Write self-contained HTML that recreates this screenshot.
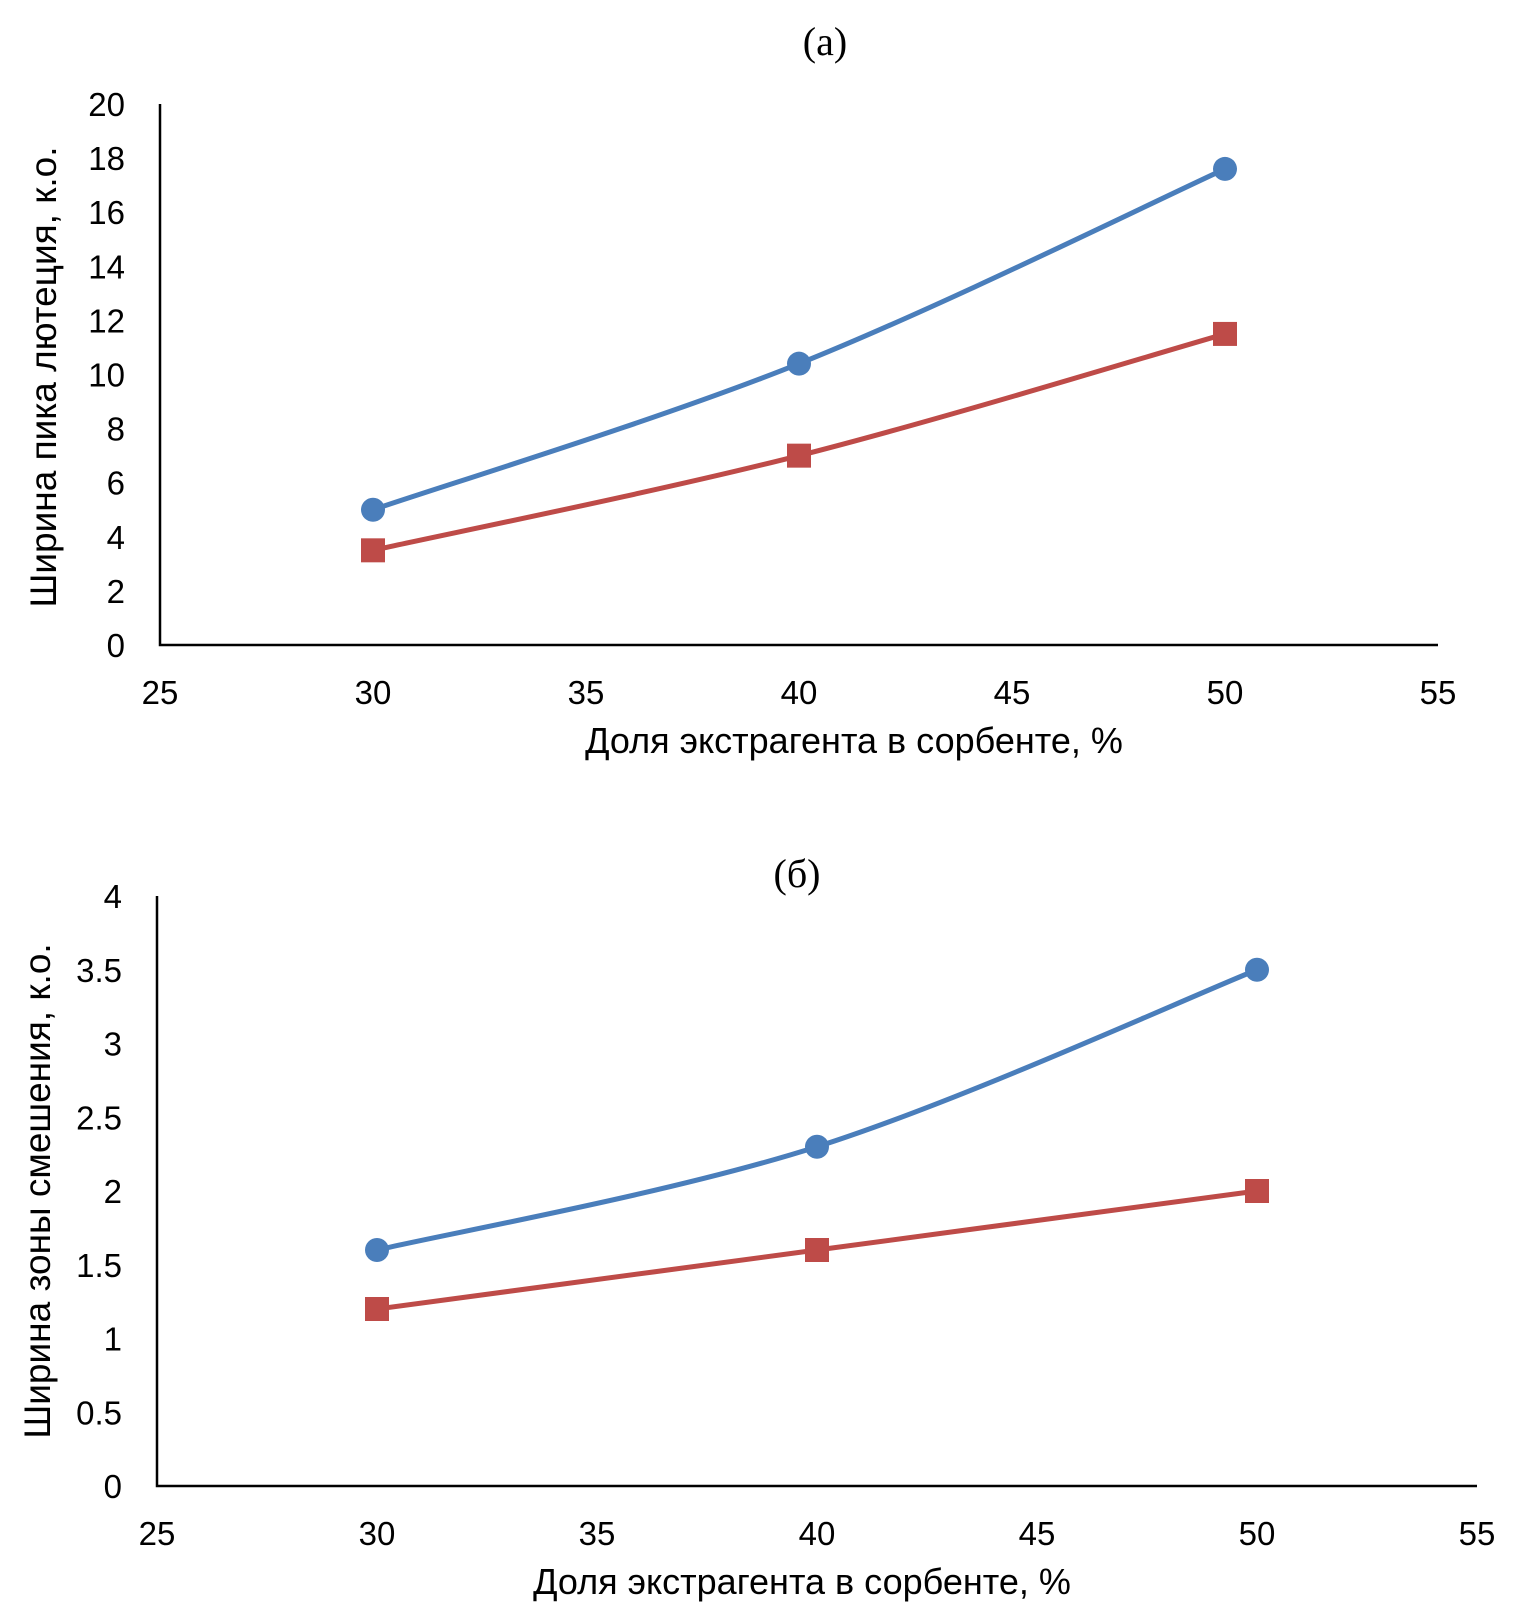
<!DOCTYPE html>
<html><head><meta charset="utf-8"><style>
html,body{margin:0;padding:0;background:#fff;}
svg{display:block;}
text{font-family:"Liberation Sans",sans-serif;fill:#000;}
.t{font-size:33px;}
.ttl{font-size:36px;}
.ytl{font-size:37px;}
.hd{font-family:"Liberation Serif",serif;font-size:40px;}
</style></head><body>
<svg id="svg" width="1535" height="1619" viewBox="0 0 1535 1619"></svg>
<script>
const categoriesX = [30, 40, 50];
const aBlue = [5.0, 10.4, 17.6];
const aRed = [3.5, 7.0, 11.5];
const bBlue = [1.6, 2.3, 3.5];
const bRed = [1.2, 1.6, 2.0];
const xTicks = [25, 30, 35, 40, 45, 50, 55];
const aYTicks = [0, 2, 4, 6, 8, 10, 12, 14, 16, 18, 20];
const bYTicks = [0, 0.5, 1, 1.5, 2, 2.5, 3, 3.5, 4];

const NS = "http://www.w3.org/2000/svg";
const svg = document.getElementById('svg');
function mk(tag, attrs, parent) {
  const e = document.createElementNS(NS, tag);
  for (const k in attrs) e.setAttribute(k, attrs[k]);
  (parent || svg).appendChild(e);
  return e;
}
function spline(pts) {
  let d = `M${pts[0][0]},${pts[0][1]}`;
  for (let i = 0; i < pts.length - 1; i++) {
    const p0 = pts[i - 1] || pts[i], p1 = pts[i], p2 = pts[i + 1], p3 = pts[i + 2] || p2;
    const c1 = [p1[0] + (p2[0] - p0[0]) / 6, p1[1] + (p2[1] - p0[1]) / 6];
    const c2 = [p2[0] - (p3[0] - p1[0]) / 6, p2[1] - (p3[1] - p1[1]) / 6];
    d += ` C${c1[0]},${c1[1]} ${c2[0]},${c2[1]} ${p2[0]},${p2[1]}`;
  }
  return d;
}
function chart(cfg) {
  const g = mk('g', {});
  
  
  const xs = v => cfg.L + (v - 25) / 30 * (cfg.R - cfg.L);
  const ys = v => cfg.B - v / cfg.ymax * (cfg.B - cfg.T);
  const ax = mk('path', {d: `M${cfg.L},${cfg.T} L${cfg.L},${cfg.B} L${cfg.R},${cfg.B}`, fill: 'none', stroke: '#000', 'stroke-width': 2.5}, g);
  
  
  cfg.yt.forEach(v => {
    const t = mk('text', {x: cfg.L - 35, y: ys(v) + 12, 'text-anchor': 'end', class: 't'}, g);
    
    
    t.textContent = String(v);
  });
  xTicks.forEach(v => {
    const t = mk('text', {x: xs(v), y: cfg.B + 59, 'text-anchor': 'middle', class: 't'}, g);
    
    
    t.textContent = String(v);
  });
  const xt = mk('text', {x: cfg.xtx, y: cfg.B + 108, 'text-anchor': 'middle', class: 'ttl'}, g);
  
  
  xt.textContent = 'Доля экстрагента в сорбенте, %';
  const yt = mk('text', {x: 0, y: 0, 'text-anchor': 'middle', class: 'ytl', transform: `translate(${cfg.ytx},${cfg.yty}) rotate(-90)`}, g);
  
  
  yt.textContent = cfg.ytitle;
  const hd = mk('text', {x: cfg.hx, y: cfg.hy, 'text-anchor': 'middle', class: 'hd'}, g);
  
  
  hd.textContent = cfg.head;
  [[cfg.blue, '#4a7ebb', 'circle'], [cfg.red, '#be4b48', 'square']].forEach(([vals, col, m]) => {
    const pts = vals.map((v, i) => [xs(categoriesX[i]), ys(v)]);
    const ln = mk('path', {d: spline(pts), fill: 'none', stroke: col, 'stroke-width': 5}, g);
    
    
    pts.forEach(p => {
      let e;
      if (m === 'circle') e = mk('circle', {cx: p[0], cy: p[1], r: 12, fill: col}, g);
      else e = mk('rect', {x: p[0] - 12, y: p[1] - 12, width: 24, height: 24, fill: col}, g);
      
      
    });
  });
}
chart({name: 'chart-a', L: 160, R: 1438, T: 104, B: 645, ymax: 20, yt: aYTicks, blue: aBlue, red: aRed,
  ytitle: 'Ширина пика лютеция, к.о.', ytx: 56, yty: 377, xtx: 854, head: '(a)', hx: 825, hy: 55});
chart({name: 'chart-b', L: 157, R: 1477, T: 896, B: 1486, ymax: 4, yt: bYTicks, blue: bBlue, red: bRed,
  ytitle: 'Ширина зоны смешения, к.о.', ytx: 50, yty: 1191, xtx: 802, head: '(б)', hx: 797, hy: 887});
</script>
</body></html>
